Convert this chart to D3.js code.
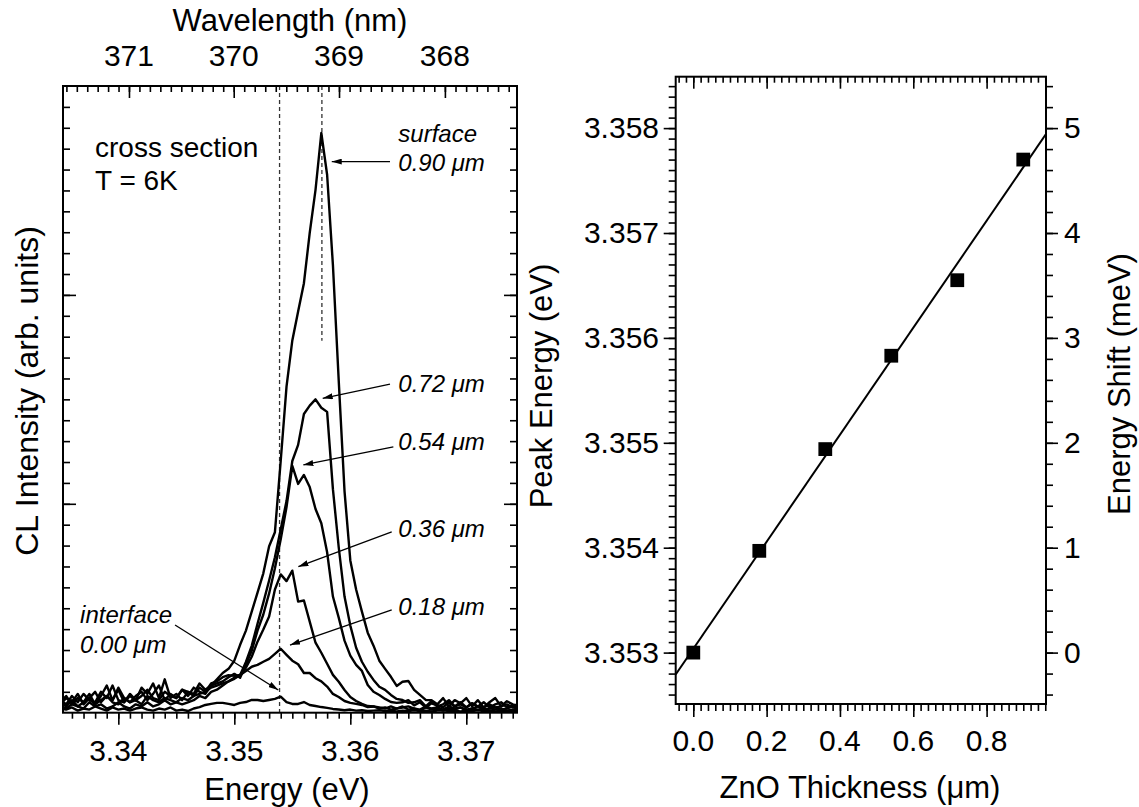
<!DOCTYPE html>
<html>
<head>
<meta charset="utf-8">
<script src="https://cdn.jsdelivr.net/npm/d3@7"></script>
<style>
  body { margin: 0; background: #fff; }
  text { font-family: "Liberation Sans", Arial, Helvetica, sans-serif; fill: #000; }
</style>
</head>
<body>
<svg id="chart" width="1139" height="807"></svg>
<script>
// ---------- CL spectra (left panel) ----------
const energyEv = [
  3.3350,3.3355,3.3360,3.3365,3.3370,3.3375,3.3380,3.3385,3.3390,3.3395,
  3.3400,3.3405,3.3410,3.3415,3.3420,3.3425,3.3430,3.3435,3.3440,3.3445,
  3.3450,3.3455,3.3460,3.3465,3.3470,3.3475,3.3480,3.3485,3.3490,3.3495,
  3.3500,3.3505,3.3510,3.3515,3.3520,3.3525,3.3530,3.3535,3.3540,3.3545,
  3.3550,3.3555,3.3560,3.3565,3.3570,3.3575,3.3580,3.3585,3.3590,3.3595,
  3.3600,3.3605,3.3610,3.3615,3.3620,3.3625,3.3630,3.3635,3.3640,3.3645,
  3.3650,3.3655,3.3660,3.3665,3.3670,3.3675,3.3680,3.3685,3.3690,3.3695,
  3.3700,3.3705,3.3710,3.3715,3.3720,3.3725,3.3730,3.3735,3.3740,3.3745
];

const cl000 = [
  0.020,0.015,0.025,0.010,0.020,0.015,0.030,0.020,0.010,0.025,0.015,0.020,0.010,0.020,0.025,0.015,0.010,0.020,0.015,0.025,0.010,0.015,0.008,
  0.020,0.027,0.037,0.042,0.047,0.047,0.042,0.037,0.047,0.051,0.061,0.061,0.056,0.061,0.066,0.077,0.051,0.042,0.042,0.051,0.037,0.032,0.027,0.023,0.018,
  0.015,0.012,0.015,0.010,0.012,0.008,0.010,0.012,0.008,0.010,0.006,0.010,0.008,0.012,0.008,0.010,0.006,0.010,0.012,0.008,0.010,0.006,0.010,0.008,0.012,0.008,0.010,0.006,0.010,0.008,0.010,0.008
];
const cl018 = [
  0.03,0.02,0.04,0.03,0.02,0.05,0.03,0.04,0.02,0.03,0.05,0.03,0.02,0.04,0.03,0.05,0.03,0.04,0.06,0.04,0.05,0.04,
  0.05,0.06,0.08,0.07,0.10,0.11,0.13,0.15,
  0.167,0.181,0.200,0.220,0.229,0.244,0.258,0.282,0.306,0.277,0.249,0.232,0.190,0.190,0.165,0.150,0.125,0.090,0.075,0.056,0.047,0.042,0.037,0.027,
  0.03,0.02,0.025,0.015,0.02,0.03,0.015,0.02,0.01,0.025,0.015,0.02,0.01,0.02,0.015,0.025,0.01,0.02,0.015,0.02,0.01,0.015,0.02,0.01,0.015,0.02
];
const cl036 = [
  0.05,0.03,0.06,0.03,0.05,0.07,0.04,0.06,0.08,0.05,0.04,0.07,0.05,0.06,0.04,0.08,0.06,0.05,0.07,0.06,0.05,0.07,0.06,0.08,0.09,0.10,0.12,0.13,0.14,0.15,
  0.162,0.181,0.215,0.268,0.340,0.398,0.460,0.590,0.662,0.630,0.680,0.532,0.537,0.436,0.335,0.287,0.234,0.181,0.148,0.109,0.075,0.056,0.042,0.032,
  0.03,0.025,0.02,0.03,0.02,0.025,0.03,0.02,0.015,0.03,0.02,0.025,0.015,0.03,0.02,0.025,0.015,0.02,0.03,0.015,0.02,0.025,0.015,0.02,0.03,0.02
];
const cl054 = [
  0.06,0.04,0.08,0.05,0.09,0.06,0.05,0.10,0.07,0.13,0.06,0.05,0.09,0.06,0.08,0.11,0.07,0.06,0.10,0.08,0.07,0.11,0.08,0.12,0.10,0.09,0.13,0.14,0.15,0.17,
  0.186,0.167,0.229,0.297,0.393,0.470,0.571,0.691,0.830,0.984,1.181,1.095,1.138,1.080,0.975,0.907,0.768,0.556,0.455,0.345,0.273,0.229,0.200,0.133,0.100,0.085,0.066,0.051,0.047,
  0.05,0.06,0.035,0.05,0.025,0.045,0.035,0.025,0.05,0.03,0.04,0.025,0.045,0.03,0.025,0.04,0.025,0.03,0.04,0.025,0.03
];
const cl072 = [
  0.04,0.07,0.05,0.09,0.04,0.07,0.10,0.05,0.08,0.06,0.12,0.07,0.05,0.08,0.10,0.06,0.09,0.13,0.06,0.09,0.07,0.11,0.10,0.08,0.12,0.10,0.14,0.15,0.17,0.18,
  0.176,0.181,0.243,0.320,0.426,0.527,0.633,0.744,0.878,1.013,1.205,1.282,1.430,1.470,1.500,1.460,1.440,1.070,0.792,0.556,0.417,0.311,0.244,0.196,0.157,0.124,0.109,0.085,0.066,0.061,0.047,
  0.05,0.06,0.03,0.055,0.03,0.04,0.06,0.03,0.05,0.025,0.045,0.03,0.05,0.025,0.04,0.05,0.025,0.035,0.04
];
const cl090 = [
  0.05,0.08,0.04,0.07,0.05,0.09,0.04,0.08,0.13,0.06,0.11,0.05,0.08,0.06,0.12,0.09,0.14,0.07,0.16,0.07,0.09,0.06,0.10,0.09,
  0.14,0.11,0.13,0.16,0.19,0.21,
  0.249,0.325,0.393,0.484,0.575,0.667,0.797,0.864,1.206,1.561,1.782,1.921,2.056,2.297,2.503,2.775,2.575,2.143,1.590,1.061,0.729,0.590,0.484,0.383,0.321,0.249,0.210,0.172,0.128,0.148,0.152,0.109,0.085,0.061,
  0.06,0.04,0.07,0.03,0.06,0.045,0.07,0.03,0.06,0.025,0.05,0.07,0.03,0.055,0.04,0.03
];
const spectra = [cl000, cl018, cl036, cl054, cl072, cl090];

// dashed guides at the interface and surface peak energies (eV)
const guideEnergy = [3.3539, 3.35755];
const guideTopIntensity = [3.0, 3.0];
const guideBottomIntensity = [0.0, 1.78];

// axis tick labels
const energyTickLabels = [3.34, 3.35, 3.36, 3.37];
const wavelengthTickLabels = [371, 370, 369, 368];

// ---------- Peak energy vs. thickness (right panel) ----------
const thicknessUm = [0.00, 0.18, 0.36, 0.54, 0.72, 0.90];
const peakEnergyEv = [3.35300, 3.35397, 3.35494, 3.35583, 3.35655, 3.35770];
const peakTickLabels = [3.353, 3.354, 3.355, 3.356, 3.357, 3.358];
const shiftTickLabels = [0, 1, 2, 3, 4, 5];
const thicknessTickLabels = [0.0, 0.2, 0.4, 0.6, 0.8];
const shiftReferenceEv = 3.353;

// ---------- callouts on the spectra (energy, intensity) ----------
const calloutLabels = ["0.72", "0.54", "0.36", "0.18"];
const calloutTextY = [1.537, 1.258, 0.843, 0.468];
const calloutTail = [[3.36342, 1.573], [3.36371, 1.273], [3.36357, 0.866], [3.36357, 0.492]];
const calloutTip = [[3.35762, 1.505], [3.35595, 1.186], [3.35552, 0.699], [3.35480, 0.324]];

const svg = d3.select("#chart");
const INK = "#000";
const TICK_FONT = 30, TITLE_FONT = 31;

const defs = svg.append("defs");
defs.append("marker")
  .attr("id", "head")
  .attr("viewBox", "0 0 10 6")
  .attr("refX", 10).attr("refY", 3)
  .attr("markerWidth", 10).attr("markerHeight", 6)
  .attr("markerUnits", "userSpaceOnUse")
  .attr("orient", "auto")
  .append("path").attr("d", "M0,0L10,3L0,6Z").attr("fill", INK);

function tickAxis(g, axis, values, size) {
  g.call(axis.tickValues(values).tickSizeInner(size).tickSizeOuter(0).tickFormat(""))
    .call(a => a.select(".domain").remove())
    .call(a => a.selectAll("line").attr("stroke", INK).attr("stroke-width", 1.6));
}
const rangeStep = (a, b, s) => d3.range(Math.round(a / s), Math.round(b / s) + 1).map(k => +(k * s).toFixed(6));

// =============== LEFT PANEL ===============
const L = { x0: 63, x1: 517, y0: 86, y1: 712.7 };
const xE = d3.scaleLinear().domain([3.33523, 3.37437]).range([L.x0, L.x1]);
const yI = d3.scaleLinear().domain([0, 3]).range([L.y1, L.y0]);

// air wavelength (nm) <-> photon energy (eV)
const hc = 1239.84, nAir = 1.00029;
const wlToE = wl => hc / (wl * nAir);

defs.append("clipPath").attr("id", "clipL")
  .append("rect").attr("x", L.x0).attr("y", L.y0).attr("width", L.x1 - L.x0).attr("height", L.y1 - L.y0);

const gL = svg.append("g");

// dashed guides
gL.selectAll("line.guide").data(guideEnergy).join("line")
  .attr("x1", d => xE(d)).attr("x2", d => xE(d))
  .attr("y1", (d, i) => yI(guideTopIntensity[i])).attr("y2", (d, i) => yI(guideBottomIntensity[i]))
  .attr("stroke", "#333").attr("stroke-width", 1.3).attr("stroke-dasharray", "4,3");

// spectra
const line = d3.line().x(d => xE(d[0])).y(d => yI(d[1]));
gL.append("g").attr("clip-path", "url(#clipL)")
  .selectAll("path").data(spectra).join("path")
  .attr("d", s => line(energyEv.map((e, i) => [e, s[i]])))
  .attr("fill", "none").attr("stroke", INK).attr("stroke-width", 2.4)
  .attr("stroke-linejoin", "round");

// frame
gL.append("rect").attr("x", L.x0).attr("y", L.y0).attr("width", L.x1 - L.x0).attr("height", L.y1 - L.y0)
  .attr("fill", "none").attr("stroke", INK).attr("stroke-width", 2);

// bottom energy ticks (outward)
const eMinor = rangeStep(3.336, 3.374, 0.001);
tickAxis(gL.append("g").attr("transform", `translate(0,${L.y1})`), d3.axisBottom(xE), eMinor, 6);
tickAxis(gL.append("g").attr("transform", `translate(0,${L.y1})`), d3.axisBottom(xE), energyTickLabels, 12);
gL.selectAll("text.eLab").data(energyTickLabels).join("text")
  .attr("x", d => xE(d)).attr("y", 761).attr("text-anchor", "middle")
  .attr("font-size", TICK_FONT).text(d => d3.format(".2f")(d));

// top wavelength ticks (inward)
const wlMinor = rangeStep(367.4, 371.6, 0.1).map(wlToE);
const wlMajor = wavelengthTickLabels.map(wlToE);
tickAxis(gL.append("g").attr("transform", `translate(0,${L.y0})`), d3.axisTop(xE), wlMinor, -6);
tickAxis(gL.append("g").attr("transform", `translate(0,${L.y0})`), d3.axisTop(xE), wlMajor, -12);
gL.selectAll("text.wLab").data(wavelengthTickLabels).join("text")
  .attr("x", d => xE(wlToE(d))).attr("y", 66).attr("text-anchor", "middle")
  .attr("font-size", TICK_FONT).text(d => d);

// left & right intensity ticks (inward, unlabeled)
const iMinor = rangeStep(0.1, 2.9, 0.1);
const iMajor = [1, 2];
tickAxis(gL.append("g").attr("transform", `translate(${L.x0},0)`), d3.axisLeft(yI), iMinor, -7);
tickAxis(gL.append("g").attr("transform", `translate(${L.x0},0)`), d3.axisLeft(yI), iMajor, -13);
tickAxis(gL.append("g").attr("transform", `translate(${L.x1},0)`), d3.axisRight(yI), iMinor, -7);
tickAxis(gL.append("g").attr("transform", `translate(${L.x1},0)`), d3.axisRight(yI), iMajor, -13);

// titles
gL.append("text").attr("x", (L.x0 + L.x1) / 2).attr("y", 31).attr("text-anchor", "middle")
  .attr("font-size", TITLE_FONT).text("Wavelength (nm)");
gL.append("text").attr("x", 287).attr("y", 800).attr("text-anchor", "middle")
  .attr("font-size", TITLE_FONT).text("Energy (eV)");
gL.append("text").attr("transform", "translate(38,391) rotate(-90)").attr("text-anchor", "middle")
  .attr("font-size", 32).text("CL Intensity (arb. units)");

// in-plot notes
gL.append("text").attr("x", xE(3.33799)).attr("y", yI(2.659)).attr("font-size", 28).text("cross section");
gL.append("text").attr("x", xE(3.33799)).attr("y", yI(2.502)).attr("font-size", 28).text("T = 6K");

const ital = (x, y, t) => gL.append("text").attr("x", x).attr("y", y)
  .attr("font-size", 24).attr("font-style", "italic").text(t);

ital(xE(3.36414), yI(2.734), "surface");
ital(xE(3.36414), yI(2.595), "0.90 \u03BCm");
gL.append("line")
  .attr("x1", xE(3.36342)).attr("y1", yI(2.638)).attr("x2", xE(3.35840)).attr("y2", yI(2.638))
  .attr("stroke", INK).attr("stroke-width", 1.3).attr("marker-end", "url(#head)");

calloutLabels.forEach((lab, i) => {
  ital(xE(3.36414), yI(calloutTextY[i]), lab + " \u03BCm");
  gL.append("line")
    .attr("x1", xE(calloutTail[i][0])).attr("y1", yI(calloutTail[i][1]))
    .attr("x2", xE(calloutTip[i][0])).attr("y2", yI(calloutTip[i][1]))
    .attr("stroke", INK).attr("stroke-width", 1.3).attr("marker-end", "url(#head)");
});

ital(xE(3.33670), yI(0.428), "interface");
ital(xE(3.33670), yI(0.284), "0.00 \u03BCm");
gL.append("line")
  .attr("x1", xE(3.34489)).attr("y1", yI(0.420)).attr("x2", xE(3.35379)).attr("y2", yI(0.109))
  .attr("stroke", INK).attr("stroke-width", 1.3).attr("marker-end", "url(#head)");

// =============== RIGHT PANEL ===============
const R = { x0: 675.7, x1: 1046, y0: 76.7, y1: 704 };
const xT = d3.scaleLinear().domain([-0.048, 0.962]).range([R.x0, R.x1]);
const yP = d3.scaleLinear().domain([3.35251, 3.35849]).range([R.y1, R.y0]);
const yS = d3.scaleLinear().domain(yP.domain().map(e => (e - shiftReferenceEv) * 1000)).range([R.y1, R.y0]);

defs.append("clipPath").attr("id", "clipR")
  .append("rect").attr("x", R.x0).attr("y", R.y0).attr("width", R.x1 - R.x0).attr("height", R.y1 - R.y0);

const gR = svg.append("g");

// least-squares line through the peak energies
const mx = d3.mean(thicknessUm), my = d3.mean(peakEnergyEv);
const slope = d3.sum(thicknessUm, (t, i) => (t - mx) * (peakEnergyEv[i] - my)) / d3.sum(thicknessUm, t => (t - mx) ** 2);
const intercept = my - slope * mx;
const fitX = xT.domain();
gR.append("g").attr("clip-path", "url(#clipR)").append("line")
  .attr("x1", xT(fitX[0])).attr("y1", yP(intercept + slope * fitX[0]))
  .attr("x2", xT(fitX[1])).attr("y2", yP(intercept + slope * fitX[1]))
  .attr("stroke", INK).attr("stroke-width", 2);

// points
gR.selectAll("path.pt").data(thicknessUm).join("path")
  .attr("transform", (t, i) => `translate(${xT(t)},${yP(peakEnergyEv[i])})`)
  .attr("d", d3.symbol(d3.symbolSquare, 190)).attr("fill", INK);

// frame
gR.append("rect").attr("x", R.x0).attr("y", R.y0).attr("width", R.x1 - R.x0).attr("height", R.y1 - R.y0)
  .attr("fill", "none").attr("stroke", INK).attr("stroke-width", 2);

// thickness ticks: bottom outward, top inward
const tMinor = rangeStep(-0.04, 0.96, 0.02);
tickAxis(gR.append("g").attr("transform", `translate(0,${R.y1})`), d3.axisBottom(xT), tMinor, 7);
tickAxis(gR.append("g").attr("transform", `translate(0,${R.y1})`), d3.axisBottom(xT), thicknessTickLabels, 13);
tickAxis(gR.append("g").attr("transform", `translate(0,${R.y0})`), d3.axisTop(xT), tMinor, -6);
tickAxis(gR.append("g").attr("transform", `translate(0,${R.y0})`), d3.axisTop(xT), thicknessTickLabels, -12);
gR.selectAll("text.tLab").data(thicknessTickLabels).join("text")
  .attr("x", d => xT(d)).attr("y", 751).attr("text-anchor", "middle")
  .attr("font-size", TICK_FONT).text(d => d3.format(".1f")(d));

// peak energy ticks (left, outward)
const pMinor = rangeStep(3.3526, 3.3584, 0.0001);
tickAxis(gR.append("g").attr("transform", `translate(${R.x0},0)`), d3.axisLeft(yP), pMinor, 7);
tickAxis(gR.append("g").attr("transform", `translate(${R.x0},0)`), d3.axisLeft(yP), peakTickLabels, 12);
gR.selectAll("text.pLab").data(peakTickLabels).join("text")
  .attr("x", 659).attr("y", d => yP(d) + 10).attr("text-anchor", "end")
  .attr("font-size", TICK_FONT).text(d => d3.format(".3f")(d));

// energy shift ticks (right, outward)
const sMinor = rangeStep(-0.4, 5.4, 0.2);
tickAxis(gR.append("g").attr("transform", `translate(${R.x1},0)`), d3.axisRight(yS), sMinor, 7);
tickAxis(gR.append("g").attr("transform", `translate(${R.x1},0)`), d3.axisRight(yS), shiftTickLabels, 12);
gR.selectAll("text.sLab").data(shiftTickLabels).join("text")
  .attr("x", 1064).attr("y", d => yS(d) + 10).attr("text-anchor", "start")
  .attr("font-size", TICK_FONT).text(d => d);

// titles
gR.append("text").attr("x", 860).attr("y", 798).attr("text-anchor", "middle")
  .attr("font-size", TITLE_FONT).text("ZnO Thickness (\u03BCm)");
gR.append("text").attr("transform", "translate(552,386) rotate(-90)").attr("text-anchor", "middle")
  .attr("font-size", TITLE_FONT).text("Peak Energy (eV)");
gR.append("text").attr("transform", "translate(1130,384) rotate(-90)").attr("text-anchor", "middle")
  .attr("font-size", TITLE_FONT).text("Energy Shift (meV)");
</script>
</body>
</html>
